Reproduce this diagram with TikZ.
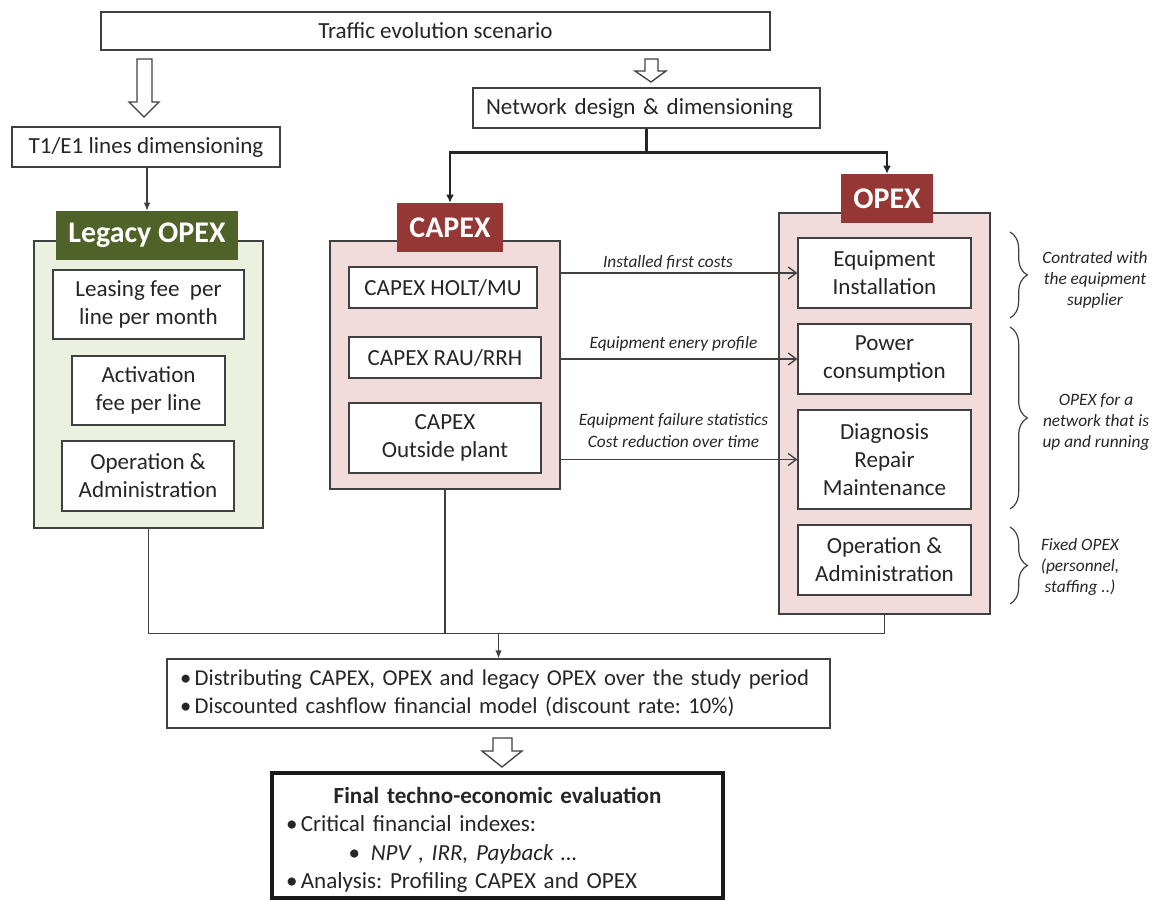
\documentclass[tikz,border=0pt]{standalone}
\usepackage{fontspec}
\setmainfont{Carlito}
\usetikzlibrary{arrows.meta,decorations.pathreplacing,calc}
\definecolor{lgray}{HTML}{404040}
\definecolor{tgray}{HTML}{262626}
\definecolor{hgreen}{HTML}{4F6228}
\definecolor{pgreen}{HTML}{EBF1DE}
\definecolor{hred}{HTML}{953735}
\definecolor{pred}{HTML}{F2DCDB}
\frenchspacing
\begin{document}
\begin{tikzpicture}[x=0.75pt,y=-0.75pt,
  wh/.style 2 args={minimum width=#1*0.75pt, minimum height=#2*0.75pt},
  box/.style={draw=lgray, fill=white, line width=1pt, inner sep=0pt, align=center, text=tgray, font=\fontsize{17.3}{21}\selectfont},
  panel/.style={draw=lgray, line width=1pt, inner sep=0pt},
  hdr/.style={inner sep=0pt, text=white, font=\fontsize{22.5}{26}\selectfont\bfseries},
  lbl/.style={text=tgray, font=\fontsize{13}{16.5}\selectfont\itshape, align=center, inner sep=0pt},
  brlbl/.style={text=tgray, font=\fontsize{13}{15.75}\selectfont\itshape, align=center, inner sep=0pt},
  hollow/.style={draw=lgray, fill=white, line width=1pt, line join=miter},
  conn/.style={draw=lgray, line width=1pt},
  fat/.style={draw=black!85, line width=2.2pt},
  brc/.style={draw=lgray, line width=0.9pt, decorate, decoration={brace, amplitude=13pt}},
]
\useasboundingbox (0,0) rectangle (1157,900);

% top boxes
\node[box, wh={669}{38}] (traffic) at (435.5,31) {Traffic evolution scenario};
\node[box, wh={268}{40}] (t1) at (146,147) {T1/E1 lines dimensioning};
\node[box, wh={347}{40}, text width=240.75pt, align=left] (net) at (646.5,108) {Network design \& dimensioning};

% hollow arrows
\draw[hollow] (137,59) -- (152,59) -- (152,102) -- (159,102) -- (144,117) -- (129,102) -- (137,102) -- cycle;
\draw[hollow] (645,59) -- (658,59) -- (658,71) -- (666,71) -- (651,82) -- (635,71) -- (645,71) -- cycle;

% legacy panel
\node[panel, fill=pgreen, wh={229}{287}] (legp) at (148.5,384.5) {};
\node[hdr, fill=hgreen, wh={182}{49}] (legh) at (147,235.5) {Legacy OPEX};
\node[box, wh={191}{69}] (lease) at (148.5,304.5) {Leasing fee\ \ per\\line per month};
\node[box, wh={153}{69}] (act) at (148.5,390.5) {Activation\\fee per line};
\node[box, wh={172}{70}] (legop) at (148,476) {Operation \&\\Administration};

% capex panel
\node[panel, fill=pred, wh={230}{248}] (capp) at (445,365) {};
\node[hdr, fill=hred, wh={106}{49}] (caph) at (450,227.5) {CAPEX};
\node[box, wh={188}{41}] (holt) at (443,287.5) {CAPEX HOLT/MU};
\node[box, wh={192}{41}] (rau) at (445,357.5) {CAPEX RAU/RRH};
\node[box, wh={192}{70}] (osp) at (445,438) {CAPEX\\Outside plant};

% opex panel
\node[panel, fill=pred, wh={211}{401}] (opp) at (884.5,413.5) {};
\node[hdr, fill=hred, wh={92}{49}] (oph) at (887,198.5) {OPEX};
\node[box, wh={173}{70}] (equip) at (884.5,273) {Equipment\\Installation};
\node[box, wh={173}{70}] (power) at (884.5,359) {Power\\consumption};
\node[box, wh={173}{99}] (diag) at (884.5,459.5) {Diagnosis\\Repair\\Maintenance};
\node[box, wh={173}{70}] (opadm) at (884.5,560) {Operation \&\\Administration};

% connectors top
\draw[conn, -{Latex[length=6pt,width=5pt]}] (legh.north |- t1.south) -- (legh.north);
\draw[fat] (net.south) -- ++(0,24) coordinate (j);
\draw[fat, -{Latex[length=6pt,width=6pt]}] (j) -| (caph.north);
\draw[fat, -{Latex[length=6pt,width=6pt]}] (j) -| (oph.north);

% capex -> opex
\draw[conn, -{Straight Barb[length=6pt,width=9pt]}] (capp.east |- equip.west) -- (equip.west);
\draw[conn, -{Straight Barb[length=6pt,width=9pt]}] (capp.east |- power.west) -- (power.west);
\draw[conn, -{Straight Barb[length=6pt,width=9pt]}] (capp.east |- diag.west) -- (diag.west);
\node[lbl] (l1) at (668,262) {Installed first costs};
\node[lbl] (l2) at (673.5,344) {Equipment enery profile};
\node[lbl] (l3) at (673.5,431) {Equipment failure statistics\\Cost reduction over time};

% braces
\draw[brc] (1010,232) -- (1010,318);
\draw[brc] (1010,327) -- (1010,509);
\draw[brc] (1010,527) -- (1010,604);
\node[brlbl] (b1) at (1095,280) {Contrated with\\the equipment\\supplier};
\node[brlbl] (b2) at (1096,422) {OPEX for a\\network that is\\up and running};
\node[brlbl] (b3) at (1080,567) {Fixed OPEX\\(personnel,\\staffing ..)};

% bottom
\node[box, wh={663}{69}, text width=477.75pt, align=left, font=\fontsize{17}{21}\selectfont] (distrib) at (498.5,693.5) {•\hspace{2.5pt}Distributing CAPEX, OPEX and legacy OPEX over the study period\\•\hspace{2.5pt}Discounted cashflow financial model (discount rate: 10\%)};
\path (distrib.north) ++(0,-25) coordinate (m);
\draw[conn] (legp.south) -- (legp.south |- m) -- (opp.south |- m) -- (opp.south);
\draw[conn] (capp.south) -- (capp.south |- m);
\draw[conn, -{Latex[length=6pt,width=5pt]}] (m) -- (distrib.north);

\draw[hollow] (493,738) -- (512,738) -- (512,751) -- (522,751) -- (502,767) -- (482,751) -- (493,751) -- cycle;

\node[box, draw=black!90, line width=2.5pt, wh={451}{125}, text width=317.25pt, align=left, font=\fontsize{17.3}{21.4}\selectfont] (final) at (497.5,835.5) {\makebox[\hsize][c]{\rule{0pt}{19pt}\bfseries Final techno-economic evaluation}\\•\hspace{2.5pt}Critical financial indexes:\\\hspace*{47pt}•\hspace{8pt}\textit{NPV , IRR, Payback …}\\•\hspace{2.5pt}Analysis: Profiling CAPEX and OPEX};
\end{tikzpicture}
\end{document}
